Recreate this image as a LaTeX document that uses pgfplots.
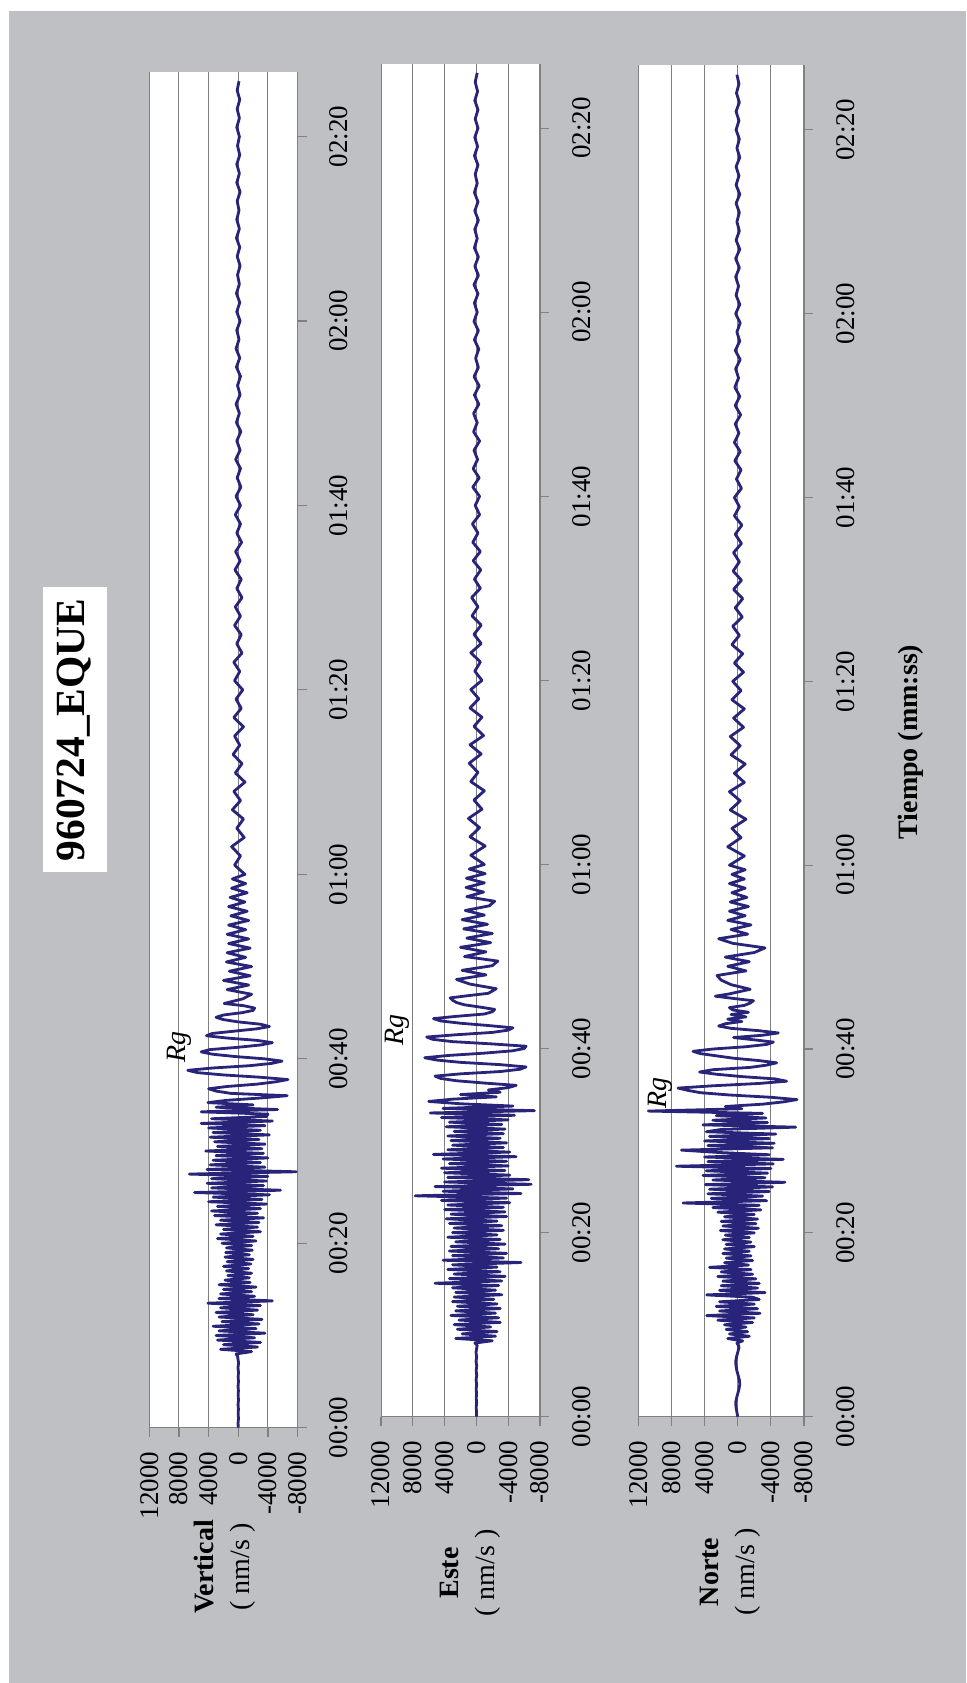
\documentclass[border=0pt]{standalone}
\usepackage{fontspec}
\setmainfont{Liberation Serif}
\usepackage{pgfplots}
\usepackage{pgfplotstable}
\pgfplotsset{compat=1.18}
\definecolor{bggrey}{RGB}{191,192,196}
\definecolor{trace}{RGB}{40,36,122}
\definecolor{gridgrey}{RGB}{128,128,128}

\pgfplotstableread{
t v e n
0 0 0 0
0.5 30 -20 100
1 -30 30 200
1.5 20 -30 250
2 -20 20 150
2.5 30 -20 0
3 -30 30 -150
3.5 20 -30 -250
4 -20 40 -200
4.5 30 -40 -50
5 -30 30 100
5.5 20 -40 200
6 -30 40 250
6.5 40 -30 150
7 -40 50 0
7.5 50 -50 -150
7.75 100 -100 -100
8.00 300 200 100
8.25 -1800 -2000 -600
8.50 2400 2600 1200
8.75 -2600 -2400 -1400
9.00 2000 1800 1000
9.25 -3000 -2600 -1200
9.50 2800 2400 1400
9.75 -2200 -1800 -1000
10.00 3000 2800 1600
10.25 -3600 -3000 -1800
10.50 2600 2200 2400
10.75 -2400 -2800 -2000
11.00 3400 3200 3750
11.25 -2800 -2400 -2700
11.50 2200 2600 2200
11.75 -3200 -3000 -2400
12.00 2600 2400 2600
12.25 -2000 -2600 -2000
12.50 3000 3000 2200
12.75 -2600 -2200 -2600
13.00 2400 2800 -1800
13.25 -3000 -3200 3750
13.50 4100 2600 -3300
13.75 -4600 -2400 2200
14.00 2600 3000 -2400
14.25 -2200 -2800 2000
14.50 2400 5200 -2600
14.75 -1800 -3200 1800
15.00 2000 3400 -2200
15.25 -2400 -3600 2400
15.50 2600 2800 -1800
15.75 -1600 -3000 2000
16.00 1800 3600 -1600
16.25 -1500 -2600 3400
16.50 1400 3000 -1300
16.75 -1800 -5600 1600
17.00 1600 4200 -1800
17.25 -1400 -3400 1400
17.50 2000 3000 -1600
17.75 -1700 -3800 1800
18.00 1500 3400 -1400
18.25 -2000 -2800 1600
18.50 1800 3200 -2000
18.75 -1500 -3600 1400
19.00 1700 2600 -1600
19.25 -1900 -3000 1800
19.50 1600 3600 -1400
19.75 -1800 -2600 1500
20.00 2200 3000 -2000
20.25 -2400 -3400 2100
20.50 2800 2800 -2500
20.75 -2000 -3200 1800
21.00 2400 3400 -2200
21.25 -3000 -2600 2000
21.50 2000 3800 -2400
21.75 -2600 -3800 1600
22.00 3000 3200 -2000
22.25 -2800 -3600 2400
22.50 2400 4000 -2800
22.75 -3400 -3400 3000
23.00 3200 3600 -2600
23.25 -2600 -4200 6600
23.50 3600 4400 -3500
23.75 -3000 -3800 3200
24.00 2800 7700 -3000
24.25 -3800 -5600 3600
24.50 4000 4200 -3800
24.75 -3200 -4600 3400
25.00 3400 5200 -4200
25.25 -4200 -6900 3900
25.50 5900 4000 -5700
25.75 -5700 -6600 3000
26.00 3600 3600 -3300
26.25 -3400 -4200 4200
26.50 4200 4000 -3600
26.75 -3800 -3600 3800
27.00 3600 4400 -4000
27.25 -4000 -4000 7400
27.50 6600 3400 -4300
27.75 -7800 -3800 3600
28.00 4200 4200 -5500
28.25 -3600 -5000 4000
28.50 3800 5400 -3800
28.75 -3000 -4200 2400
29.00 3400 3600 6800
29.25 -4000 -3400 -4200
29.50 3000 3000 3600
29.75 -3400 -3800 -4400
30.00 4400 3200 4000
30.25 -3200 -3000 -3800
30.50 2800 3600 3400
30.75 -3600 -3400 -4600
31.00 3200 2800 3800
31.25 -2800 -3600 2000
31.50 3800 3800 -7000
31.75 -4200 -3200 4200
32.00 3400 3400 -3600
32.25 -3000 -4000 3000
32.50 4000 4400 -3400
32.75 -3600 -4800 2600
33.00 5000 5800 -3000
33.25 -4600 -7300 10800
33.50 3600 4200 -500
33.75 -3800 -4600 1500
34.00 -4000 2000 -3000
34.25 5000 6000 -5500
34.50 -5300 3000 -7150
34.75 3000 -2500 -4000
35.00 -2000 2000 1000
35.25 4100 -3000 4500
35.50 1500 -1500 6000
35.75 -3000 -4000 7200
36.00 -6600 -5000 3000
36.25 1000 -1000 -2500
36.50 3000 2500 -5900
36.75 4000 4500 -4500
37.00 1500 5200 -500
37.25 -2500 2000 2500
37.50 -5000 -3000 4600
37.75 -6700 -5500 3000
38.00 -3000 -6250 -1500
38.25 2000 -3000 -3500
38.50 5500 2000 -4700
38.75 6800 5000 -2500
39.00 3500 6500 500
39.25 -1500 3500 2500
39.50 -4500 -1000 4500
39.75 -5900 -4500 5400
40.00 -3500 -6000 3000
40.25 500 -6250 -1000
40.50 3500 -2000 -3500
40.75 5000 3000 -4300
41.00 3800 5500 -2000
41.25 0 6250 500
41.50 -3000 2500 -3000
41.75 -4600 -2000 -4900
42.00 -2500 -4000 -2500
42.25 1500 -4600 800
42.50 4300 -1500 2300
42.75 3500 2000 1500
43.00 500 4500 -500
43.25 -2500 5400 1200
43.50 -4200 2500 -1000
43.75 -3000 -1000 800
44.00 0 -2000 -1300
44.25 2000 -2300 600
44.50 3000 -500 1000
44.75 2000 1500 -800
45.00 -500 2500 -1500
45.25 -2000 3000 -1900
45.50 -2200 3300 500
45.75 -800 1000 2700
46.0 1900 -1500 1000
46.5 -600 -2500 -1500
47.0 -1800 800 800
47.5 1500 2500 2000
48.0 -1400 -1200 2500
48.5 2000 1800 -1000
49.0 -1600 -2000 1200
49.5 1200 -2700 -1400
50.0 -1800 1500 1500
50.5 1600 -1200 -2000
51.0 -1000 2000 -3300
51.5 1500 -1800 600
52.0 -1600 1200 2300
52.5 1300 -2000 -1200
53.0 -1400 1600 800
53.5 1500 -1400 -1600
54.0 -1000 1800 1200
54.5 1300 -1000 -900
55.0 -1400 1400 1000
55.5 1000 -1600 -1300
56.0 -1200 -2300 900
56.5 1300 1200 -1100
57.0 -900 -900 700
57.5 1100 1300 -900
58.0 -1200 -1000 1000
58.5 900 1250 -800
59.0 -1000 -1100 700
59.5 800 900 -900
60 -900 -1000 1000
61 500 700 -800
62 -300 -1100 1200
63 900 800 -400
64 -800 -400 700
65 200 1000 -1000
66 -700 -700 900
67 800 300 -300
68 -300 -1000 1000
69 600 700 -800
70 -900 -200 400
71 400 900 -900
72 -500 -600 800
73 700 800 -300
74 -200 -900 900
75 500 300 -700
76 -700 -700 500
77 600 800 -800
78 -400 -300 700
79 300 700 -400
80 -600 -700 600
81 500 200 -700
82 -200 -500 400
83 600 700 -600
84 -500 -600 700
85 200 300 -200
86 -400 -600 600
87 500 550 -550
88 -300 -200 300
89 400 600 -600
90 -500 -500 500
91 200 250 -450
92 -400 -550 550
93 450 400 -200
94 -250 -500 500
95 350 450 -450
96 -450 -200 300
97 200 500 -500
98 -300 -400 400
99 400 150 -200
100 -300 -400 400
101 300 450 -450
102 -350 -350 150
103 150 400 -400
104 -300 -150 350
105 350 300 -300
106 -250 -400 400
107 200 350 -150
108 -350 -100 300
109 250 350 -350
110 -150 -300 300
111 300 250 -250
112 -250 -350 350
113 100 300 -100
114 -300 -250 250
115 250 100 -300
116 -200 -300 300
117 300 250 -250
118 -100 -250 100
119 200 300 -300
120 -250 -100 250
121 200 250 -250
122 -200 -200 200
123 250 300 -100
124 -150 -250 250
125 100 200 -200
126 -250 -250 250
127 150 250 -250
128 -200 -100 200
129 250 200 -200
130 -150 -250 100
131 200 200 -200
132 -100 -200 200
133 150 250 -250
134 -250 -100 200
135 200 150 -150
136 -150 -200 200
137 200 250 -250
138 -200 -150 100
139 100 200 -200
140 -150 -200 200
141 200 150 -150
142 -150 -200 200
143 150 200 -200
144 -200 -150 150
145 150 150 -150
146 -100 -100 100
}\seisdata

\pgfplotsset{
  seis/.style={
    scale only axis, anchor=south west,
    xmin=-12000, xmax=8000, ymin=0, ymax=147,
    axis x line*=bottom, axis y line*=right,
    scaled x ticks=false, scaled y ticks=false,
    xtick={-12000,-8000,-4000,0,4000,8000},
    xticklabels={12000,8000,4000,0,-4000,-8000},
    ytick={0,20,40,60,80,100,120,140},
    yticklabels={00:00,00:20,00:40,01:00,01:20,01:40,02:00,02:20},
    xmajorgrids, grid style={gridgrey, line width=0.5pt},
    axis line style={gridgrey, line width=0.6pt},
    tick style={gridgrey, line width=0.6pt},
    tick align=outside, major tick length=4.5pt,
    xticklabel shift=4pt, yticklabel shift=8pt,
    xticklabel style={rotate=90, anchor=east, font=\fontsize{13.5}{16}\selectfont},
    yticklabel style={rotate=90, anchor=north, font=\fontsize{13.5}{16}\selectfont},
    axis background/.style={fill=white},
  },
  trc/.style={color=trace, line width=1.4pt, line join=round, mark=none},
}

\begin{document}
\begin{tikzpicture}
\fill[white] (0,0) rectangle (483pt,841.5pt);
\fill[bggrey] (4.5pt,0) rectangle (483pt,835.75pt);

% Vertical
\begin{axis}[seis, at={(74.65pt,127.65pt)}, width=74.15pt, height=677.85pt]
\addplot[trc] table[x expr=-\thisrow{v}, y=t] {\seisdata};
\node[rotate=90, font=\itshape\fontsize{14}{16}\selectfont] at (axis cs:-7950,41.3) {Rg};
\end{axis}

% Este
\begin{axis}[seis, at={(190.5pt,133.15pt)}, width=79.5pt, height=676.5pt]
\addplot[trc] table[x expr=-\thisrow{e}, y=t] {\seisdata};
\node[rotate=90, font=\itshape\fontsize{14}{16}\selectfont] at (axis cs:-9900,42.0) {Rg};
\end{axis}

% Norte
\begin{axis}[seis, at={(319.15pt,133.15pt)}, width=82.85pt, height=675.6pt]
\addplot[trc] table[x expr=-\thisrow{n}, y=t] {\seisdata};
\node[rotate=90, font=\itshape\fontsize{14}{16}\selectfont] at (axis cs:-9330,35.2) {Rg};
\end{axis}

\node[rotate=90, align=center, font=\fontsize{14}{18}\selectfont] at (112.5pt,58pt) {\textbf{Vertical}\\( nm/s )};
\node[rotate=90, align=center, font=\fontsize{14}{18}\selectfont] at (235pt,55pt) {\textbf{Este}\\( nm/s )};
\node[rotate=90, align=center, font=\fontsize{14}{18}\selectfont] at (365pt,55.5pt) {\textbf{Norte}\\( nm/s )};

\node[rotate=90, fill=white, minimum width=142.5pt, minimum height=32pt, inner sep=0pt, font=\bfseries\fontsize{20.75}{24}\selectfont] at (37.25pt,476.5pt) {960724\_EQUE};
\node[rotate=90, font=\bfseries\fontsize{14}{16}\selectfont] at (455.5pt,470.5pt) {Tiempo (mm:ss)};
\end{tikzpicture}
\end{document}
